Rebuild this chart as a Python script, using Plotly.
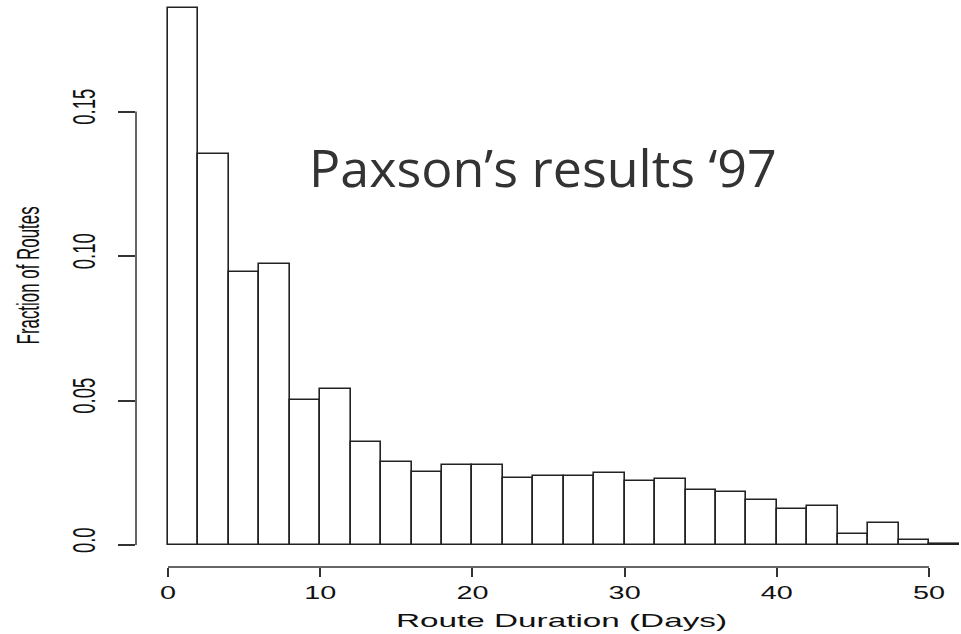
import plotly.graph_objects as go

# histogram of route durations, 2-day bins (left edges)
bin_start = [0, 2, 4, 6, 8, 10, 12, 14, 16, 18, 20, 22, 24,
             26, 28, 30, 32, 34, 36, 38, 40, 42, 44, 46, 48, 50]
fraction = [0.1857, 0.1354, 0.0944, 0.0973, 0.0501, 0.0541, 0.0358,
            0.0288, 0.0253, 0.0278, 0.0278, 0.0232, 0.0239, 0.0239,
            0.0248, 0.0223, 0.0227, 0.0190, 0.0185, 0.0155, 0.0125,
            0.0136, 0.0039, 0.0075, 0.0017, 0.0003]
bin_width = 2

x_ticks = [0, 10, 20, 30, 40, 50]
y_ticks = [0.0, 0.05, 0.10, 0.15]
y_tick_text = ["0.0", "0.05", "0.10", "0.15"]

sans = "Liberation Sans, Arial, sans-serif"

fig = go.Figure()
fig.add_trace(go.Bar(
    x=[b + bin_width / 2 for b in bin_start],
    y=fraction,
    width=bin_width,
    marker=dict(color="white", line=dict(color="#222222", width=1.6)),
    showlegend=False,
))

# R-style axes: lines only over the tick span
fig.add_shape(type="line", xref="paper", yref="y", x0=0, x1=0,
              y0=y_ticks[0], y1=y_ticks[-1], line=dict(color="#333333", width=1.5))
fig.add_shape(type="line", xref="x", yref="paper", y0=0, y1=0,
              x0=x_ticks[0], x1=x_ticks[-1], line=dict(color="#333333", width=1.5))

fig.add_annotation(text="Paxson\u2019s results \u201897", xref="paper", yref="paper",
                   x=0.493, y=0.707, xanchor="center", yanchor="middle", showarrow=False,
                   font=dict(family="Open Sans, sans-serif", size=52, color="#333333"))
# axis titles
fig.add_annotation(text="Route Duration (Days)", xref="paper", yref="paper",
                   x=0.516, y=-0.095, xanchor="center", yanchor="middle", showarrow=False,
                   font=dict(family=sans, size=19, color="#111111"))
fig.add_annotation(text="Fraction of Routes", xref="paper", yref="paper",
                   x=-0.1309, y=0.513, xanchor="center", yanchor="middle", showarrow=False,
                   textangle=-90, font=dict(family=sans, size=32, color="#111111"))

fig.update_layout(
    width=961, height=634,
    margin=dict(l=136, r=0, t=0, b=67),
    plot_bgcolor="white", paper_bgcolor="white",
    bargap=0,
    xaxis=dict(range=[-2.102, 52.10], showgrid=False, zeroline=False, showline=False,
               automargin=False,
               tickvals=x_ticks, ticks="outside", ticklen=9, tickwidth=1.5,
               tickcolor="#333333",
               tickfont=dict(family=sans, size=18, color="#111111")),
    yaxis=dict(range=[-0.00761, 0.18858], showgrid=False, zeroline=False, showline=False,
               automargin=False,
               tickvals=y_ticks, ticktext=y_tick_text, ticks="outside", ticklen=17,
               tickwidth=1.5, tickcolor="#333333", tickangle=-90,
               ticklabelstandoff=10,
               tickfont=dict(family=sans, size=32, color="#111111")),
)

# the source image was stretched sideways: widen x texts, squeeze rotated y texts
post = """
document.body.style.margin = '0';
var gd = document.getElementById('{plot_id}');
function fit(sel, f) {
  gd.querySelectorAll(sel).forEach(function (t) {
    var n = t.getComputedTextLength();
    t.setAttribute('textLength', f(n));
    t.setAttribute('lengthAdjust', 'spacingAndGlyphs');
  });
}
fit('g.xtick text', function (n) { return n * 1.6; });
fit('g.ytick text', function (n) { return n * 0.58; });
fit('.annotation[data-index="1"] text', function (n) { return 331; });
fit('.annotation[data-index="2"] text', function (n) { return 138; });
"""

fig.write_html("out.html", post_script=post, config={"displayModeBar": False})
